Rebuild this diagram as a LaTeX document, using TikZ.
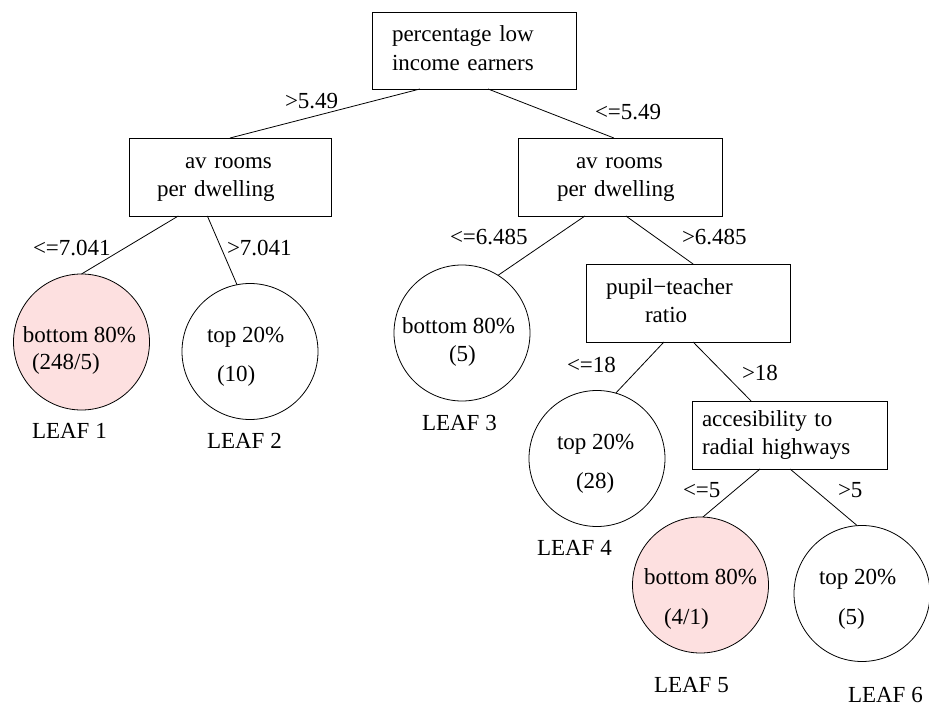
\documentclass[tikz,border=0pt]{standalone}
\usepackage{fontspec}
\setmainfont{Liberation Serif}
\usetikzlibrary{calc}
\definecolor{leafpink}{RGB}{253,224,224}
\begin{document}
\begin{tikzpicture}[x=1pt,y=-1pt,
  font=\fontsize{23}{28.5}\selectfont,
  splitbox/.style={draw, line width=0.8pt, rectangle, anchor=north west,
    inner xsep=0pt, inner ysep=0pt, outer sep=0pt, align=left},
  leaf/.style={draw, line width=0.8pt, circle, minimum size=136pt,
    inner sep=0pt, outer sep=0pt},
  hot/.style={fill=leafpink},
  txt/.style={anchor=base west, inner sep=0pt, outer sep=0pt},
  branch/.style={line width=0.8pt}]
\fill[white] (0,0) rectangle (929,709);
\useasboundingbox (0,0) rectangle (929,709);

% split nodes
\node[splitbox, text width=204pt, minimum height=77pt] (root) at (372,12)
  {\hspace*{20pt}\strut percentage low\\\hspace*{20pt}\strut income earners};
\node[splitbox, text width=202pt, minimum height=78pt] (roomsL) at (129,138)
  {\hspace*{56pt}\strut av rooms\\\hspace*{28pt}\strut per dwelling};
\node[splitbox, text width=204pt, minimum height=78pt] (roomsR) at (518,138)
  {\hspace*{58pt}\strut av rooms\\\hspace*{39pt}\strut per dwelling};
\node[splitbox, text width=204pt, minimum height=78pt] (pupil) at (586,264)
  {\hspace*{20pt}\strut pupil−teacher\\\hspace*{59pt}\strut ratio};
\node[splitbox, text width=195pt, minimum height=68pt] (access) at (692,401)
  {\hspace*{10pt}\strut accesibility to\\\hspace*{10pt}\strut radial highways};

% leaves
\node[leaf, hot] (leaf1) at (81.5,342) {};
\node[leaf] (leaf2) at (250,351.5) {};
\node[leaf] (leaf3) at (462,333) {};
\node[leaf] (leaf4) at (597,458.5) {};
\node[leaf, hot] (leaf5) at (700.5,585) {};
\node[leaf] (leaf6) at (862,593.5) {};

% leaf contents
\node[txt] (l1a) at (23,342) {bottom 80\%};
\node[txt] (l1b) at (32,369) {(248/5)};
\node[txt] (l2a) at (207,342) {top 20\%};
\node[txt] (l2b) at (217,381) {(10)};
\node[txt] (l3a) at (402,333) {bottom 80\%};
\node[txt] (l3b) at (449,361) {(5)};
\node[txt] (l4a) at (557,449) {top 20\%};
\node[txt] (l4b) at (576,488) {(28)};
\node[txt] (l5a) at (644,584) {bottom 80\%};
\node[txt] (l5b) at (664,624) {(4/1)};
\node[txt] (l6a) at (819,584) {top 20\%};
\node[txt] (l6b) at (838,624) {(5)};

% leaf captions
\node[txt] (cap1) at (32,438) {LEAF 1};
\node[txt] (cap2) at (207,448) {LEAF 2};
\node[txt] (cap3) at (422,430) {LEAF 3};
\node[txt] (cap4) at (537,555) {LEAF 4};
\node[txt] (cap5) at (654,692) {LEAF 5};
\node[txt] (cap6) at (848,702) {LEAF 6};

% branch conditions
\node[txt] (c1) at (285,108) {>5.49};
\node[txt] (c2) at (595,119) {<=5.49};
\node[txt] (c3) at (33,255) {<=7.041};
\node[txt] (c4) at (227,255) {>7.041};
\node[txt] (c5) at (450,244) {<=6.485};
\node[txt] (c6) at (682,244) {>6.485};
\node[txt] (c7) at (567,372) {<=18};
\node[txt] (c8) at (742,380) {>18};
\node[txt] (c9) at (683,497) {<=5};
\node[txt] (c10) at (838,497) {>5};

% branches
\draw[branch] ($(root.south west)!0.235!(root.south east)$) -- (roomsL.north);
\draw[branch] ($(root.south west)!0.569!(root.south east)$) -- ($(roomsR.north west)!0.47!(roomsR.north east)$);
\draw[branch] ($(roomsL.south west)!0.244!(roomsL.south east)$) -- (leaf1.north);
\draw[branch] ($(roomsL.south west)!0.388!(roomsL.south east)$) -- (leaf2.101);
\draw[branch] ($(roomsR.south west)!0.328!(roomsR.south east)$) -- (leaf3.58);
\draw[branch] ($(roomsR.south west)!0.529!(roomsR.south east)$) -- ($(pupil.north west)!0.525!(pupil.north east)$);
\draw[branch] ($(pupil.south west)!0.382!(pupil.south east)$) -- (leaf4.74);
\draw[branch] ($(pupil.south west)!0.525!(pupil.south east)$) -- ($(access.north west)!0.303!(access.north east)$);
\draw[branch] ($(access.south west)!0.349!(access.south east)$) -- (leaf5.88);
\draw[branch] ($(access.south west)!0.503!(access.south east)$) -- (leaf6.94);
\end{tikzpicture}
\end{document}
